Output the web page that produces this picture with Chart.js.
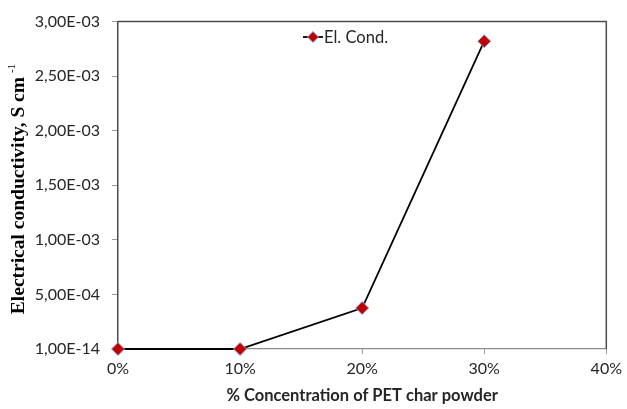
<!DOCTYPE html>
<html><head><meta charset="utf-8">
<script src="https://cdn.jsdelivr.net/npm/chart.js@4"></script>
<style>html,body{margin:0;padding:0;background:#fff}#wrap{width:627px;height:409px;position:relative}</style>
</head><body><div id="wrap"><canvas id="c"></canvas></div>
<script>
// PET char powder loading (%) vs. electrical conductivity (S/cm)
const concentrations = [0, 10, 20, 30];
const conductivity = [1e-14, 1e-14, 3.75e-4, 2.82e-3];
const yTicks = [1e-14, 5e-4, 1e-3, 1.5e-3, 2e-3, 2.5e-3, 3e-3];
const xTicks = [0, 10, 20, 30, 40];
const seriesName = 'El. Cond.';
const xTitle = '% Concentration of PET char powder';
const yTitle = 'Electrical conductivity, S cm';
const yTitleSup = '-1';

const TEXT = '#262626';
const MARKER_FILL = '#c00000';
const MARKER_EDGE = '#8eaadb';

// 0.0025 -> "2,50E-03"
function sci(v) {
  const [m, e] = v.toExponential(2).split('e');
  const n = parseInt(e, 10);
  return m.replace('.', ',') + 'E' + (n < 0 ? '-' : '+') + String(Math.abs(n)).padStart(2, '0');
}

const decorations = {
  id: 'decorations',
  afterDraw(chart) {
    const ctx = chart.ctx;
    const a = chart.chartArea;
    ctx.save();
    // top and right edges of the plot frame
    ctx.strokeStyle = '#4d4d4d';
    ctx.lineWidth = 1.5;
    ctx.beginPath();
    ctx.moveTo(a.left, a.top);
    ctx.lineTo(a.right, a.top);
    ctx.lineTo(a.right, a.bottom);
    ctx.stroke();

    // legend entry
    const lx = 313, ly = 37;
    ctx.strokeStyle = '#000';
    ctx.lineWidth = 1.8;
    ctx.beginPath();
    ctx.moveTo(lx - 10, ly);
    ctx.lineTo(lx + 10, ly);
    ctx.stroke();
    ctx.fillStyle = MARKER_FILL;
    ctx.strokeStyle = MARKER_EDGE;
    ctx.lineWidth = 1;
    ctx.beginPath();
    ctx.moveTo(lx, ly - 5.5); ctx.lineTo(lx + 5.5, ly); ctx.lineTo(lx, ly + 5.5); ctx.lineTo(lx - 5.5, ly); ctx.closePath();
    ctx.fill(); ctx.stroke();
    ctx.fillStyle = TEXT;
    ctx.font = '16.5px Lato';
    ctx.textBaseline = 'middle';
    ctx.textAlign = 'left';
    ctx.fillText(seriesName, lx + 11, ly + 1);

    // rotated y-axis title with superscript unit exponent
    const cx = 18, cy = 189;
    const mainFont = 'bold 19.5px "Liberation Serif"';
    const supFont = '11px "Liberation Serif"';
    ctx.font = mainFont;
    const w1 = ctx.measureText(yTitle).width;
    ctx.font = supFont;
    const w2 = ctx.measureText(yTitleSup).width;
    const gap = 4;
    const total = w1 + gap + w2;
    ctx.translate(cx, cy);
    ctx.rotate(-Math.PI / 2);
    ctx.textBaseline = 'alphabetic';
    ctx.fillStyle = '#000';
    ctx.font = mainFont;
    ctx.fillText(yTitle, -total / 2, 6);
    ctx.font = supFont;
    ctx.fillText(yTitleSup, -total / 2 + w1 + gap, -3);
    ctx.restore();
  }
};

new Chart(document.getElementById('c'), {
  type: 'line',
  data: {
    datasets: [{
      label: seriesName,
      data: concentrations.map((x, i) => ({ x, y: conductivity[i] })),
      borderColor: '#000',
      borderWidth: 1.8,
      tension: 0,
      pointStyle: 'rectRot',
      pointRadius: 6.5,
      pointBackgroundColor: MARKER_FILL,
      pointBorderColor: MARKER_EDGE,
      pointBorderWidth: 1,
      clip: false
    }]
  },
  options: {
    responsive: true,
    maintainAspectRatio: false,
    animation: false,
    layout: { padding: { left: 0, right: 19, top: 21, bottom: 0 } },
    plugins: { legend: { display: false }, tooltip: { enabled: false } },
    scales: {
      x: {
        type: 'linear',
        min: 0, max: 40,
        afterBuildTicks(s) { s.ticks = xTicks.map(v => ({ value: v })); },
        afterFit(s) { s.height = 60; },
        ticks: { callback: v => v + '%', color: TEXT, font: { family: 'Lato', size: 16 }, padding: 5, maxRotation: 0 },
        grid: { drawOnChartArea: false, drawTicks: true, tickLength: 5, tickColor: '#9a9a9a' },
        border: { color: '#8c8c8c', width: 1.2 },
        title: { display: true, text: xTitle, color: TEXT, font: { family: 'Lato', size: 16.5, weight: 'bold' }, padding: { top: 0, bottom: 3 } }
      },
      y: {
        type: 'linear',
        min: 0, max: 3e-3,
        afterBuildTicks(s) { s.ticks = yTicks.map(v => ({ value: v })); },
        afterFit(s) { s.width = 118; },
        ticks: { callback: v => sci(v), color: TEXT, font: { family: 'Lato', size: 16 }, padding: 12 },
        grid: { drawOnChartArea: false, drawTicks: true, tickLength: 6, tickColor: '#9a9a9a' },
        border: { color: '#4d4d4d', width: 1.5 }
      }
    }
  },
  plugins: [decorations]
});
</script>
</body></html>
